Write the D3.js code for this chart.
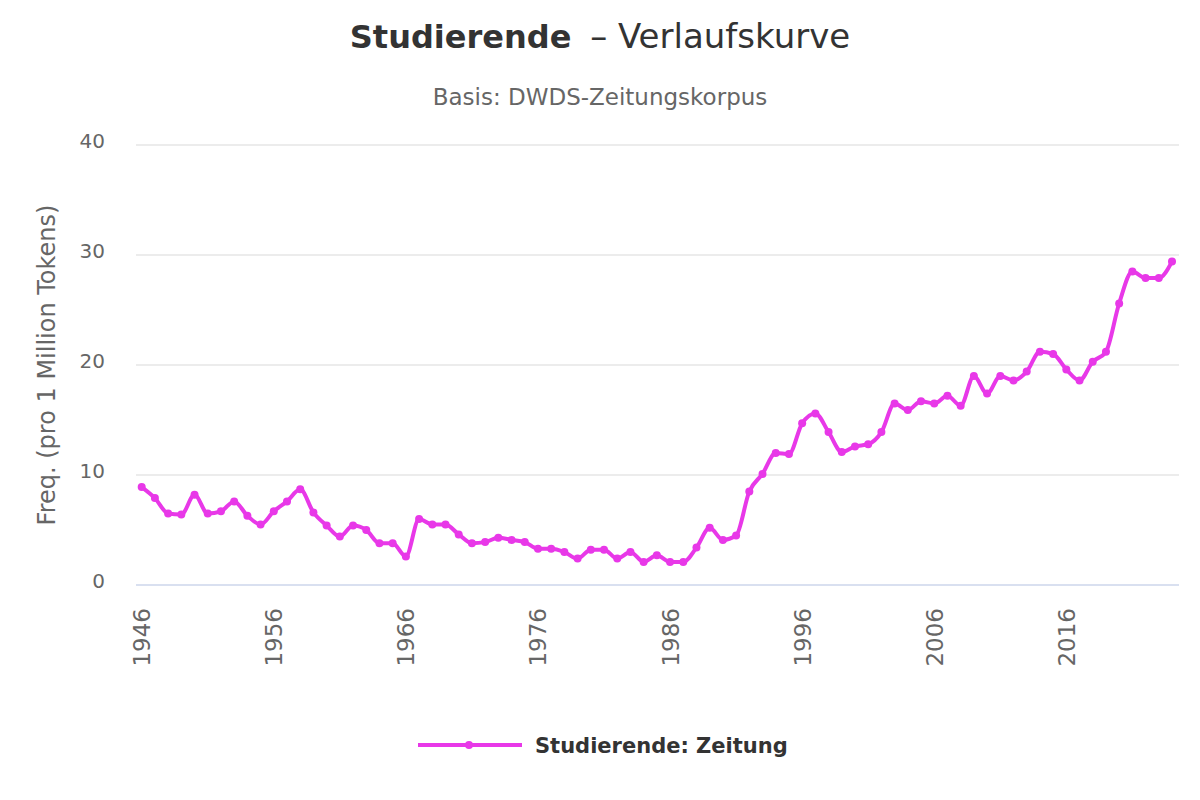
<!DOCTYPE html>
<html>
<head>
<meta charset="utf-8">
<script src="https://cdn.jsdelivr.net/npm/d3@7"></script>
<style>
  html, body { margin: 0; padding: 0; background: #fff; }
  svg { display: block; font-family: "DejaVu Sans", sans-serif; }
</style>
</head>
<body>
<svg id="chart" width="1200" height="800"></svg>
<script>
const years = d3.range(1946, 2025);
const values = [
  8.9, 7.9, 6.5, 6.4, 8.2, 6.5, 6.7, 7.6, 6.3, 5.5,
  6.7, 7.6, 8.7, 6.6, 5.4, 4.4, 5.4, 5.0, 3.8, 3.8,
  2.6, 6.0, 5.5, 5.5, 4.6, 3.8, 3.9, 4.3, 4.1, 3.9,
  3.3, 3.3, 3.0, 2.4, 3.2, 3.2, 2.4, 3.0, 2.1, 2.7,
  2.1, 2.1, 3.4, 5.2, 4.1, 4.5, 8.5, 10.1, 12.0, 11.9,
  14.7, 15.6, 13.9, 12.1, 12.6, 12.8, 13.9, 16.5, 15.9, 16.7,
  16.5, 17.2, 16.3, 19.0, 17.4, 19.0, 18.6, 19.4, 21.2, 21.0,
  19.6, 18.6, 20.3, 21.2, 25.6, 28.5, 27.9, 27.9, 29.4
];
const xTicks = [1946, 1956, 1966, 1976, 1986, 1996, 2006, 2016];
const yTicks = [0, 10, 20, 30, 40];
const titleBold = "Studierende";
const titleRest = " – Verlaufskurve";
const subtitle = "Basis: DWDS-Zeitungskorpus";
const yTitle = "Freq. (pro 1 Million Tokens)";
const seriesName = "Studierende: Zeitung";
const color = "#e838e8";

const svg = d3.select("#chart");
const plotLeft = 136, plotRight = 1179, plotTop = 145, plotBottom = 585;

const x = d3.scaleLinear().domain([1946, 2024]).range([141.7, 1172]);
const y = d3.scaleLinear().domain([0, 40]).range([plotBottom, plotTop]);

// Title
const t = svg.append("text").attr("x", 600).attr("y", 48)
  .attr("text-anchor", "middle").attr("fill", "#333");
t.append("tspan").attr("font-weight", "bold").attr("font-size", 32).text(titleBold);
t.append("tspan").attr("font-size", 34).attr("dx", 8).text(titleRest);

svg.append("text").attr("x", 600).attr("y", 105)
  .attr("text-anchor", "middle").attr("fill", "#666").attr("font-size", 23)
  .text(subtitle);

// Grid lines
const grid = svg.append("g");
grid.selectAll("line").data(yTicks.filter(d => d !== 0)).join("line")
  .attr("x1", plotLeft).attr("x2", plotRight)
  .attr("y1", d => y(d)).attr("y2", d => y(d))
  .attr("stroke", "#e6e6e6").attr("stroke-width", 1.5);

// x-axis baseline
svg.append("line").attr("x1", plotLeft).attr("x2", plotRight)
  .attr("y1", y(0)).attr("y2", y(0))
  .attr("stroke", "#ccd6eb").attr("stroke-width", 1.5);

// Y tick labels
svg.append("g").selectAll("text").data(yTicks).join("text")
  .attr("x", 105).attr("y", d => y(d) + 3)
  .attr("text-anchor", "end").attr("fill", "#666").attr("font-size", 20)
  .text(d => d);

// Y title
svg.append("text")
  .attr("transform", `translate(55, ${(plotTop + plotBottom) / 2}) rotate(-90)`)
  .attr("text-anchor", "middle").attr("fill", "#666").attr("font-size", 24)
  .text(yTitle);

// X tick labels (rotated)
svg.append("g").selectAll("text").data(xTicks).join("text")
  .attr("transform", d => `translate(${x(d) + 8.5}, 608) rotate(-90)`)
  .attr("text-anchor", "end").attr("fill", "#666").attr("font-size", 23)
  .text(d => d);

// Line
const data = years.map((yr, i) => ({ yr, v: values[i] }));
const line = d3.line().x(d => x(d.yr)).y(d => y(d.v)).curve(d3.curveMonotoneX);
svg.append("path").datum(data).attr("d", line)
  .attr("fill", "none").attr("stroke", color).attr("stroke-width", 4)
  .attr("stroke-linejoin", "round").attr("stroke-linecap", "round");

svg.append("g").selectAll("circle").data(data).join("circle")
  .attr("cx", d => x(d.yr)).attr("cy", d => y(d.v)).attr("r", 4)
  .attr("fill", color);

// Legend
const lg = svg.append("g");
lg.append("line").attr("x1", 418).attr("x2", 522).attr("y1", 745).attr("y2", 745)
  .attr("stroke", color).attr("stroke-width", 4);
lg.append("circle").attr("cx", 469).attr("cy", 745).attr("r", 4).attr("fill", color);
lg.append("text").attr("x", 535).attr("y", 753).attr("fill", "#333")
  .attr("font-size", 21).attr("font-weight", "bold").text(seriesName);
</script>
</body>
</html>
